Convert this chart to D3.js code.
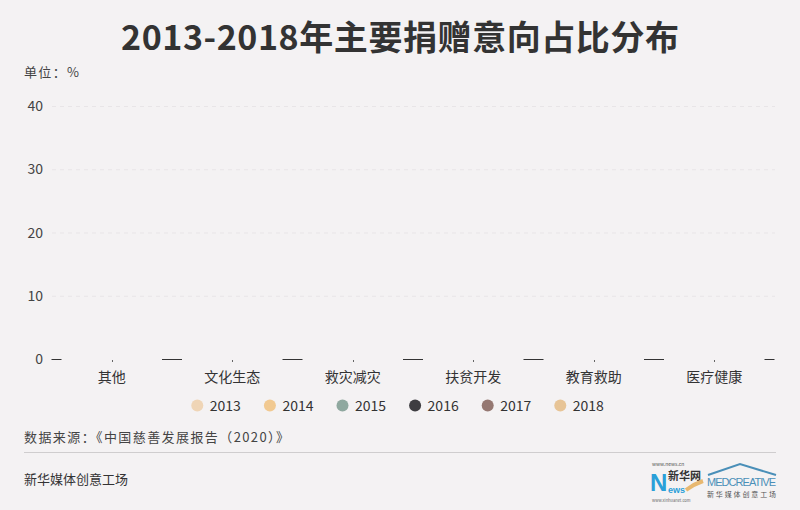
<!DOCTYPE html>
<html><head><meta charset="utf-8">
<script src="https://cdn.jsdelivr.net/npm/d3@7/dist/d3.min.js"></script>
<style>
html,body{margin:0;padding:0;background:#f4f2f3;}
svg{display:block;font-family:"Noto Sans CJK SC","Noto Sans",sans-serif;}
</style></head><body>
<svg id="c" width="800" height="510"></svg>
<script>
const categories = ["其他","文化生态","救灾减灾","扶贫开发","教育救助","医疗健康"];
const years = ["2013","2014","2015","2016","2017","2018"];
const colors = ["#efd5b6","#f1c991","#8fa89f","#3e3d41","#957872","#e7c496"];
// values as shown in the picture (bars at zero height)
const v2013 = [0,0,0,0,0,0];
const v2014 = [0,0,0,0,0,0];
const v2015 = [0,0,0,0,0,0];
const v2016 = [0,0,0,0,0,0];
const v2017 = [0,0,0,0,0,0];
const v2018 = [0,0,0,0,0,0];
const series = [v2013,v2014,v2015,v2016,v2017,v2018];
const yTicks = [0,10,20,30,40];

const svg = d3.select("#c");
svg.append("rect").attr("width",800).attr("height",510).attr("fill","#f4f2f3");

svg.append("text").attr("x",400).attr("y",50).attr("text-anchor","middle")
  .attr("font-size",34).attr("font-weight",600).attr("fill","#333")
  .attr("textLength",558).attr("lengthAdjust","spacing").text("2013-2018年主要捐赠意向占比分布");
svg.append("text").attr("x",24).attr("y",77).attr("font-size",13).attr("fill","#444")
  .attr("textLength",55).text("单位：%");

const x = d3.scaleBand().domain(categories).range([51.5,774.5]);
const y = d3.scaleLinear().domain([0,40]).range([359,106]);
const pad = 10;
const x1 = d3.scaleBand().domain(years).range([pad, x.bandwidth()-pad]).padding(0.1);

// grid
svg.append("g").selectAll("line").data(yTicks.filter(d=>d>0)).join("line")
  .attr("x1",52).attr("x2",775).attr("y1",d=>y(d)+0.5).attr("y2",d=>y(d)+0.5)
  .attr("stroke","#e8e5e7").attr("stroke-dasharray","4,4");
svg.append("g").selectAll("text").data(yTicks).join("text")
  .attr("x",43).attr("y",d=>y(d)+5).attr("text-anchor","end")
  .attr("font-size",14).attr("fill","#444").text(d=>d);

// baseline segments between bar groups
const bounds = categories.map(c=>x(c)).concat([x.range()[1]]);
svg.append("g").selectAll("line").data(bounds).join("line")
  .attr("x1",(d,i)=>i===0?d:d-pad).attr("x2",(d,i)=>i===bounds.length-1?d:d+pad)
  .attr("y1",359.5).attr("y2",359.5).attr("stroke","#333").attr("stroke-width",1);
// tiny center ticks
svg.append("g").selectAll("line").data(categories).join("line")
  .attr("x1",d=>Math.round(x(d)+x.bandwidth()/2)+0.5).attr("x2",d=>Math.round(x(d)+x.bandwidth()/2)+0.5)
  .attr("y1",360).attr("y2",362).attr("stroke","#666");
svg.append("g").selectAll("text").data(categories).join("text")
  .attr("x",d=>x(d)+x.bandwidth()/2).attr("y",382).attr("text-anchor","middle")
  .attr("font-size",14).attr("fill","#333").text(d=>d);

// bars
const g = svg.append("g");
categories.forEach((c,ci)=>{
  years.forEach((yr,yi)=>{
    const val = series[yi][ci];
    g.append("rect").attr("x",x(c)+x1(yr)).attr("width",x1.bandwidth())
      .attr("y",y(val)).attr("height",y(0)-y(val)).attr("fill",colors[yi]);
  });
});

// legend
const lg = svg.append("g");
years.forEach((yr,i)=>{
  const cx = 197.3 + i*72.6;
  lg.append("circle").attr("cx",cx).attr("cy",405.5).attr("r",6).attr("fill",colors[i]);
  lg.append("text").attr("x",cx+12.5).attr("y",411).attr("font-size",14).attr("fill","#333").text(yr);
});

svg.append("text").attr("x",24).attr("y",442).attr("font-size",13).attr("fill","#444")
  .attr("textLength",265).attr("lengthAdjust","spacing").text("数据来源：《中国慈善发展报告（2020）》");
svg.append("line").attr("x1",24).attr("x2",776).attr("y1",452.5).attr("y2",452.5).attr("stroke","#cfcdce");
svg.append("text").attr("x",24).attr("y",484).attr("font-size",13).attr("fill","#333").text("新华媒体创意工场");

// logos (approximation)
const lo = svg.append("g");
lo.append("text").attr("x",652).attr("y",466).attr("font-size",5).attr("fill","#555").text("www.news.cn");
lo.append("text").attr("x",650).attr("y",491).attr("font-size",24).attr("font-weight","bold").attr("fill","#2a9fd8").attr("font-family","Liberation Sans").text("N");
lo.append("text").attr("x",668).attr("y",480).attr("font-size",11).attr("font-weight","bold").attr("fill","#333").text("新华网");
lo.append("text").attr("x",668).attr("y",493).attr("font-size",9).attr("font-weight","bold").attr("fill","#2a9fd8").attr("font-family","Liberation Sans").text("ews");
lo.append("path").attr("d","M686,490 Q694,484 703,481").attr("stroke","#e8b870").attr("stroke-width",4).attr("fill","none");
lo.append("text").attr("x",652).attr("y",502).attr("font-size",4).attr("fill","#666").text("www.xinhuanet.com");
lo.append("path").attr("d","M708,475 L740,464 L776,475").attr("stroke","#4a8fb8").attr("stroke-width",2).attr("fill","none");
lo.append("text").attr("x",707).attr("y",486).attr("font-size",11).attr("fill","#4a8fb8").attr("font-family","Liberation Sans").attr("textLength",69).text("MEDCREATIVE");
lo.append("text").attr("x",707).attr("y",497).attr("font-size",7).attr("fill","#555").attr("textLength",69).text("新华媒体创意工场");
</script>
</body></html>
